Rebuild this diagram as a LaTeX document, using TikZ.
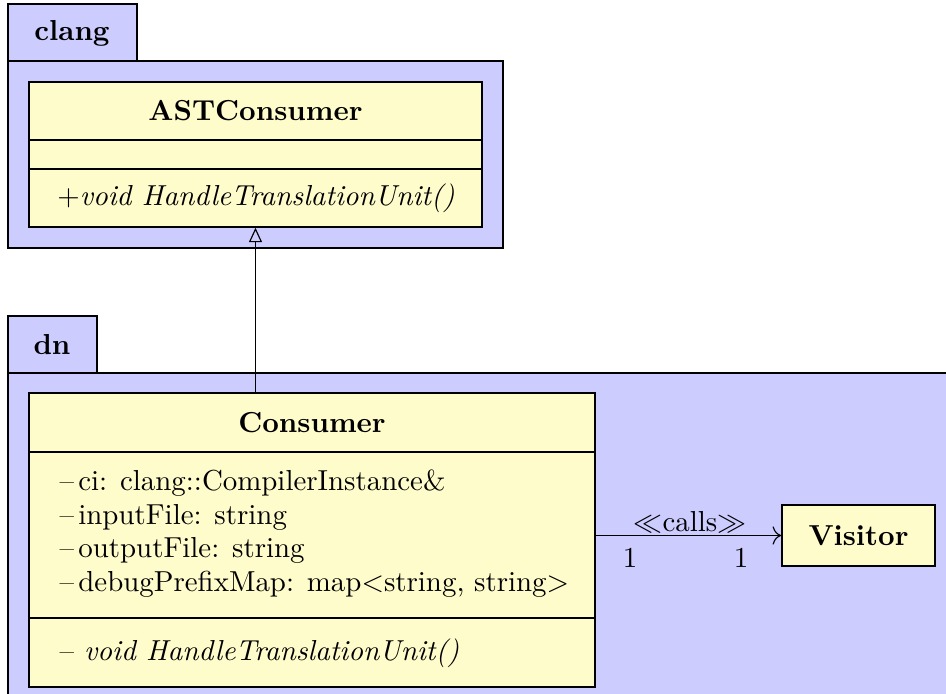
\documentclass[tikz,border=0pt]{standalone}
\usetikzlibrary{arrows.meta,fit}
\begin{document}
\begin{tikzpicture}[x=0.346pt,y=-0.346pt,
  pkg/.style={draw=black, fill=blue!20, line width=0.4pt},
  classbox/.style={draw=black, fill=yellow!20, rectangle, inner sep=0pt, line width=0.5pt},
  ttl/.style={font=\bfseries, inner sep=0pt},
  txt/.style={inner sep=0pt, anchor=base west},
  mult/.style={inner sep=0pt}]
\clip (0,0) rectangle (946,694);
\fill[white] (0,0) rectangle (946,694);
% package clang
\draw[pkg] (8,4) rectangle (137,61);
\draw[pkg] (8,61) rectangle (503,248);
\node[ttl] (clangname) at (72,33) {clang};
% package dn
\draw[pkg] (8,316) rectangle (97,373);
\draw[pkg] (8,373) rectangle (960,710);
\node[ttl] (dnname) at (52,345) {dn};
% ASTConsumer
\coordinate (astnw) at (29,82);
\coordinate (astse) at (482,227);
\node[classbox, fit=(astnw)(astse)] (ast) {};
\draw (29,140) -- (482,140);
\draw (29,169) -- (482,169);
\node[ttl] (asttitle) at (255.5,111) {ASTConsumer};
\node[inner sep=0pt] (astop) at (256,198) {$+$\textit{void HandleTranslationUnit()}};
% Consumer
\coordinate (consnw) at (29,393);
\coordinate (consse) at (595,687);
\node[classbox, fit=(consnw)(consse)] (cons) {};
\draw (29,452) -- (595,452);
\draw (29,618) -- (595,618);
\node[ttl] (constitle) at (312,423) {Consumer};
\node[txt] (attr1) at (59,491) {--\kern1.5pt ci: clang::CompilerInstance\&};
\node[txt] (attr2) at (59,524.5) {--\kern1.5pt inputFile: string};
\node[txt] (attr3) at (59,558) {--\kern1.5pt outputFile: string};
\node[txt] (attr4) at (59,592) {--\kern1.5pt debugPrefixMap: map<string, string>};
\node[txt] (consop) at (59,661) {--\hspace{3.5pt}\textit{void HandleTranslationUnit()}};
% Visitor
\coordinate (visnw) at (782,505);
\coordinate (visse) at (935,566);
\node[classbox, fit=(visnw)(visse)] (vis) {};
\node[ttl] (vistitle) at (858.5,535.5) {Visitor};
% inheritance
\draw[line width=0.4pt, -{Triangle[open, length=5pt, width=4.5pt]}] (cons.north -| ast.south) -- (ast.south);
% association
\draw[line width=0.4pt, -{To[length=3pt]}] (cons.east |- vis.west) -- (vis.west);
\node[mult] (callslbl) at (690,522) {$\ll$calls$\gg$};
\node[mult] (m1) at (630,558) {1};
\node[mult] (m2) at (741,558) {1};
\end{tikzpicture}
\end{document}
